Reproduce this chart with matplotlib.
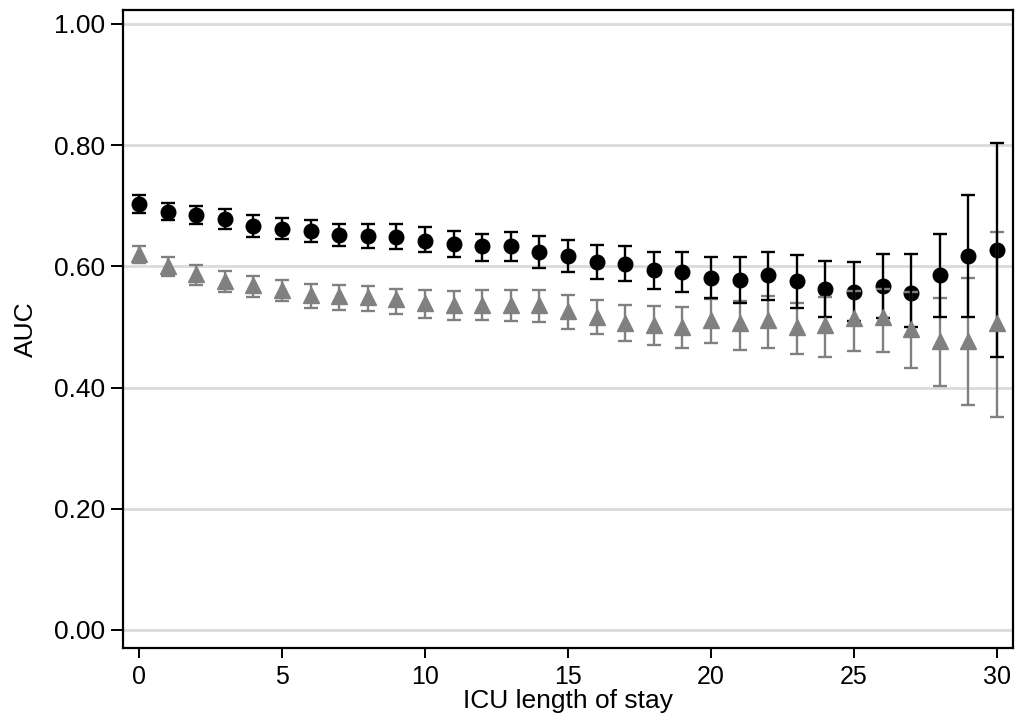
import numpy as np
import matplotlib
matplotlib.use("Agg")
import matplotlib.pyplot as plt

# ----------------------------
# Data
# ----------------------------
los_days = list(range(31))

# black circles
auc_a = [0.703, 0.690, 0.684, 0.678, 0.667, 0.662, 0.659, 0.651, 0.650, 0.649,
         0.642, 0.637, 0.633, 0.633, 0.624, 0.617, 0.607, 0.604, 0.594, 0.591,
         0.581, 0.577, 0.585, 0.575, 0.563, 0.557, 0.567, 0.556, 0.586, 0.617,
         0.627]
lo_a = [0.688, 0.677, 0.670, 0.661, 0.649, 0.645, 0.640, 0.633, 0.630, 0.628,
        0.623, 0.616, 0.609, 0.608, 0.598, 0.590, 0.579, 0.575, 0.563, 0.558,
        0.548, 0.540, 0.544, 0.531, 0.516, 0.510, 0.515, 0.500, 0.517, 0.517,
        0.450]
hi_a = [0.717, 0.705, 0.700, 0.694, 0.684, 0.679, 0.676, 0.670, 0.670, 0.670,
        0.665, 0.658, 0.654, 0.657, 0.650, 0.644, 0.635, 0.633, 0.624, 0.624,
        0.616, 0.616, 0.623, 0.619, 0.609, 0.607, 0.621, 0.621, 0.653, 0.718,
        0.803]

# grey triangles
auc_b = [0.620, 0.601, 0.587, 0.576, 0.569, 0.561, 0.553, 0.551, 0.549, 0.546,
         0.539, 0.536, 0.536, 0.536, 0.536, 0.527, 0.517, 0.506, 0.503, 0.500,
         0.511, 0.506, 0.511, 0.500, 0.503, 0.514, 0.517, 0.496, 0.477, 0.477,
         0.506]
lo_b = [0.606, 0.584, 0.570, 0.558, 0.549, 0.542, 0.532, 0.528, 0.526, 0.521,
        0.515, 0.512, 0.512, 0.510, 0.508, 0.497, 0.488, 0.476, 0.470, 0.466,
        0.474, 0.462, 0.466, 0.455, 0.451, 0.461, 0.459, 0.432, 0.403, 0.371,
        0.352]
hi_b = [0.634, 0.615, 0.603, 0.593, 0.584, 0.578, 0.571, 0.569, 0.567, 0.563,
        0.561, 0.559, 0.561, 0.561, 0.561, 0.552, 0.545, 0.537, 0.534, 0.533,
        0.546, 0.542, 0.551, 0.540, 0.549, 0.559, 0.562, 0.558, 0.547, 0.581,
        0.656]

y_ticks = [0.0, 0.2, 0.4, 0.6, 0.8, 1.0]
x_ticks = [0, 5, 10, 15, 20, 25, 30]

# ----------------------------
# Plot
# ----------------------------
plt.rcParams['font.family'] = ['Liberation Sans', 'DejaVu Sans']

fig = plt.figure(figsize=(10.27, 7.19), dpi=100)
ax = fig.add_axes([0.1198, 0.0988, 0.8666, 0.8873])

grey = '#808080'
x = np.array(los_days)
a = np.array(auc_a)
b = np.array(auc_b)

for yt in y_ticks:
    ax.axhline(yt, color='#dadada', lw=2.0, zorder=0)

ax.plot(x, a, 'o', color='black', ms=10.5, zorder=2)
ax.errorbar(x, b, yerr=[b - np.array(lo_b), np.array(hi_b) - b], fmt='none',
            ecolor=grey, elinewidth=1.7, capsize=5, capthick=1.7, zorder=3)
ax.errorbar(x, a, yerr=[a - np.array(lo_a), np.array(hi_a) - a], fmt='none',
            ecolor='black', elinewidth=1.7, capsize=5, capthick=1.7, zorder=4)
ax.plot(x, b, '^', color=grey, ms=12, zorder=5)

ax.set_xlim(-0.56, 30.56)
ax.set_ylim(-0.0297, 1.023)
ax.set_yticks(y_ticks)
ax.set_yticklabels([f"{v:.2f}" for v in y_ticks], fontsize=19)
ax.set_xticks(x_ticks)
ax.set_xticklabels([str(v) for v in x_ticks], fontsize=18)
ax.tick_params(axis='both', direction='out', width=1.4, color='black')
ax.tick_params(axis='y', length=9, pad=4)
ax.tick_params(axis='x', length=7, pad=5)

for s in ax.spines.values():
    s.set_linewidth(1.6)
    s.set_color('black')

ax.set_ylabel("AUC", fontsize=19, labelpad=11)
ax.set_xlabel("ICU length of stay", fontsize=19, labelpad=0)

fig.savefig("out.png", dpi=100)
